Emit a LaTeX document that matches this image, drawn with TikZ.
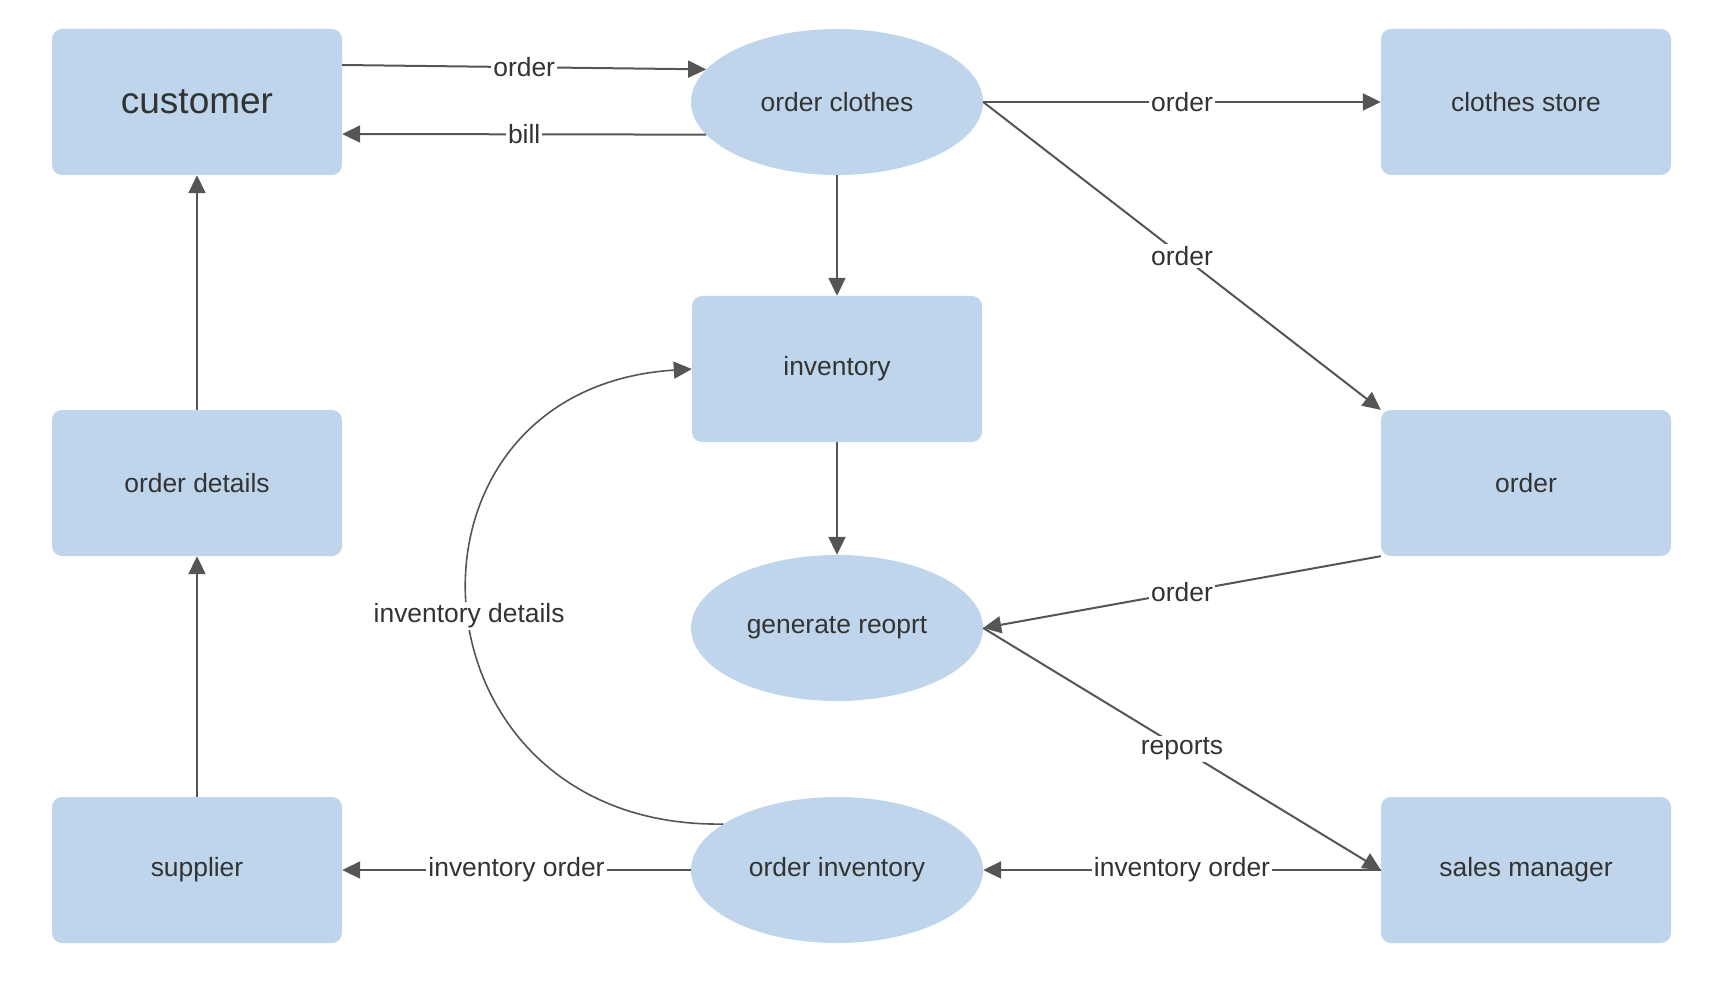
\documentclass[tikz,border=0pt]{standalone}
\usepackage{fontspec}
\setmainfont{Liberation Sans}
\usetikzlibrary{shapes.geometric, arrows.meta, positioning}
\definecolor{boxblue}{HTML}{BED5EB}
\definecolor{linegray}{HTML}{555555}
\definecolor{txtgray}{HTML}{333333}
\newcommand{\nodefont}{\fontsize{26.4}{30}\selectfont}
\tikzset{
  box/.style={rectangle, rounded corners=10pt, fill=boxblue, text=txtgray,
    minimum width=290pt, minimum height=146pt, inner sep=0pt, font=\nodefont},
  proc/.style={ellipse, fill=boxblue, text=txtgray,
    minimum width=292pt, minimum height=146pt, inner sep=0pt, font=\nodefont},
  lbl/.style={fill=white, text=txtgray, inner sep=2pt, font=\nodefont},
  flow/.style={->, draw=linegray, line width=2pt}
}

\begin{document}
\begin{tikzpicture}[x=1pt, y=-1pt, >={Triangle[length=18pt, width=17pt]}]
\useasboundingbox (0,0) rectangle (1715,981);
\coordinate (Cu) at (197,102);
\coordinate (Oc) at (837,102);
\coordinate (Cs) at (1526,102);
\coordinate (In) at (837,369);
\coordinate (Od) at (197,483);
\coordinate (Or) at (1526,483);
\coordinate (Gr) at (837,628);
\coordinate (Su) at (197,870);
\coordinate (Oi) at (837,870);
\coordinate (Sm) at (1526,870);

\node[box, font=\fontsize{37}{42}\selectfont] (cust) at (Cu) {customer};
\node[proc] (oclothes) at (Oc) {order clothes};
\node[box] (store) at (Cs) {clothes store};
\node[box] (inv) at (In) {inventory};
\node[box] (odetails) at (Od) {order details};
\node[box] (ord) at (Or) {order};
\node[proc] (report) at (Gr) {generate reoprt};
\node[box] (supp) at (Su) {supplier};
\node[proc] (oinv) at (Oi) {order inventory};
\node[box] (manager) at (Sm) {sales manager};

\draw[flow] ([yshift=37pt]cust.east) -- node[lbl]{order} (oclothes.166);
\draw[flow] (oclothes.194) -- node[lbl]{bill} ([yshift=-32pt]cust.east);
\draw[flow] (oclothes.east) -- node[lbl]{order} (store.west);
\draw[flow] (oclothes.east) -- node[lbl]{order} (ord.north west);
\draw[flow] (oclothes.south) -- (inv.north);
\draw[flow] (inv.south) -- (report.north);
\draw[flow] (ord.south west) -- node[lbl]{order} (report.east);
\draw[flow] (report.east) -- node[lbl]{reports} (manager.west);
\draw[flow] (manager.west) -- node[lbl]{inventory order} (oinv.east);
\draw[flow] (oinv.west) -- node[lbl]{inventory order} (supp.east);
\draw[flow] (supp.north) -- (odetails.south);
\draw[flow] (odetails.north) -- (cust.south);
\draw[flow, line width=1.6pt] (oinv.158) .. controls +(-322,5) and +(-316,20) .. node[lbl, pos=0.485]{inventory details} (inv.west);
\end{tikzpicture}
\end{document}
